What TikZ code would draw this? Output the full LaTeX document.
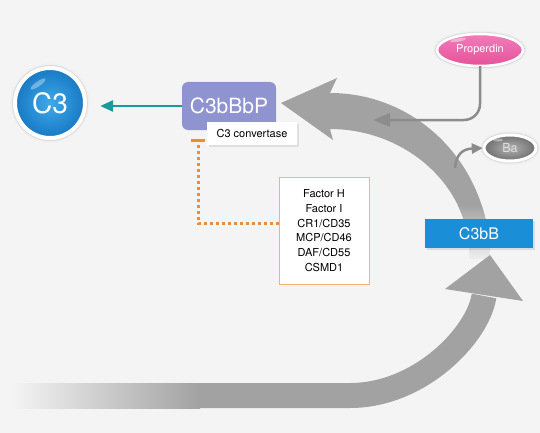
\documentclass[tikz,border=0pt]{standalone}
\usepackage{fontspec}
\setmainfont{TeX Gyre Heros}
\usetikzlibrary{arrows.meta,shapes.geometric,shadows}
\definecolor{bg}{HTML}{F4F4F4}
\definecolor{arrowgray}{HTML}{A2A2A2}
\definecolor{conngray}{HTML}{8C8C8C}
\definecolor{c3blue}{HTML}{1779C4}
\definecolor{c3light}{HTML}{3FA9EA}
\definecolor{convlilac}{HTML}{8F93CF}
\definecolor{cleavteal}{HTML}{1A9A9C}
\definecolor{regorange}{HTML}{F28C2E}
\definecolor{boxorange}{HTML}{F3B574}
\definecolor{c3bblue}{HTML}{1A8ED6}
\definecolor{propink}{HTML}{E6519B}
\definecolor{proplight}{HTML}{F07DB8}
\definecolor{bagray}{HTML}{6E6E6E}
\begin{document}
\begin{tikzpicture}[x=1pt,y=-1pt,
    halo/.style={preaction={draw=black!6, line width=#1+5pt},
      preaction={draw=black!14, line width=#1+2pt},
      postaction={draw=white, line width=#1}},
    protein/.style={circle, minimum size=70pt,
      inner color=c3light, outer color=c3blue, text=white, halo=4pt,
      font=\fontsize{28}{30}\selectfont},
    complex/.style={rounded corners=6pt, fill=convlilac, minimum width=94pt,
      minimum height=48pt, text=white, font=\fontsize{21}{24}\selectfont},
    tag/.style={fill=white, minimum width=90pt, minimum height=23pt,
      font=\fontsize{11}{13}\selectfont,
      drop shadow={opacity=0.18, shadow xshift=1.5pt, shadow yshift=-1.5pt}},
    regbox/.style={fill=white, draw=boxorange, line width=0.8pt, align=center,
      minimum width=90pt, minimum height=107pt,
      font=\fontsize{11}{14.8}\selectfont},
    fragbox/.style={fill=c3bblue, minimum width=108pt, minimum height=29pt,
      text=white, font=\fontsize{16}{18}\selectfont,
      drop shadow={opacity=0.2, shadow xshift=1.5pt, shadow yshift=-1.5pt}},
    blob/.style={ellipse, inner sep=0pt},
    conn/.style={conngray, line width=2.5pt}]
  \tikzstyle{every node}=[inner sep=2pt]

  \fill[bg] (0,0) rectangle (540,433);
  \useasboundingbox (0,0) rectangle (540,433);

  % lower arrow
  \shade[left color=bg, right color=arrowgray] (12,383) rectangle (200,408);
  \draw[arrowgray, line width=25pt] (199,395.5) -- (350,395.5)
    .. controls (420,395.5) and (478,335) .. (484,296);

  % upper arrow
  \fill[arrowgray] (490,258) .. controls (490,168) and (420,93) .. (330,93)
    -- (337,78) -- (281,103) -- (333,140) -- (330,129)
    .. controls (404,129) and (470,184) .. (470,258) -- cycle;
  \begin{scope}
    \clip (490,258) .. controls (490,168) and (420,93) .. (330,93)
      -- (330,129) .. controls (404,129) and (470,184) .. (470,258) -- cycle;
    \shade[top color=arrowgray, bottom color=bg] (430,205) rectangle (510,262);
  \end{scope}
  \fill[arrowgray] (445,289) -- (490,255) -- (523,301) -- cycle;

  \node[protein] (c3) at (50,103) {C3};
  \fill[white, opacity=0.35, rotate around={35:(38,84)}] (38,84) ellipse (9pt and 2.5pt);
  \node[complex] (c3bbbp) at (229,106) {C3bBbP};
  \node[tag] (convertase) at (252,133.5) {C3 convertase};
  \node[regbox] (regulators) at (324,230.5)
    {Factor H\\Factor I\\CR1/CD35\\MCP/CD46\\DAF/CD55\\CSMD1};
  \node[fragbox] (c3bb) at (479,233.5) {C3bB};
  \node[blob, minimum width=86pt, minimum height=32pt, top color=proplight,
    bottom color=propink, text=white, halo=2.5pt,
    font=\fontsize{11}{13}\selectfont] (properdin) at (480,50) {Properdin};
  \fill[white, opacity=0.4, rotate around={10:(458,40)}] (458,40) ellipse (8pt and 1.8pt);
  \node[blob, minimum width=52pt, minimum height=26pt,
    inner color=gray!60, outer color=bagray, text=gray!25, halo=3pt,
    font=\fontsize{12.5}{14}\selectfont] (ba) at (510,148) {Ba};
  \fill[white, opacity=0.4] (498,140) ellipse (5pt and 1.5pt);

  \coordinate (inhib) at (198,139);
  \coordinate (propend) at (373,120);
  \coordinate (bastem) at (455,168);

  \draw[cleavteal, line width=2.8pt, -{Triangle[length=13pt,width=11pt]},
    shorten >=15pt] (c3bbbp.west) -- (c3.east |- c3bbbp.west);
  \draw[regorange, line width=3pt, dash pattern=on 3pt off 3pt,
    -{Bar[width=14pt]}] ([yshift=7.5pt]regulators.west) -| (inhib);
  \draw[conn, rounded corners=16pt, -{Triangle[length=17pt,width=13pt]}]
    (properdin.south) |- (propend);
  \draw[conn, -{Triangle[length=11pt,width=10pt]}, shorten >=1pt]
    (bastem) .. controls (456,155) and (462,149) .. (ba.west);
\end{tikzpicture}
\end{document}
